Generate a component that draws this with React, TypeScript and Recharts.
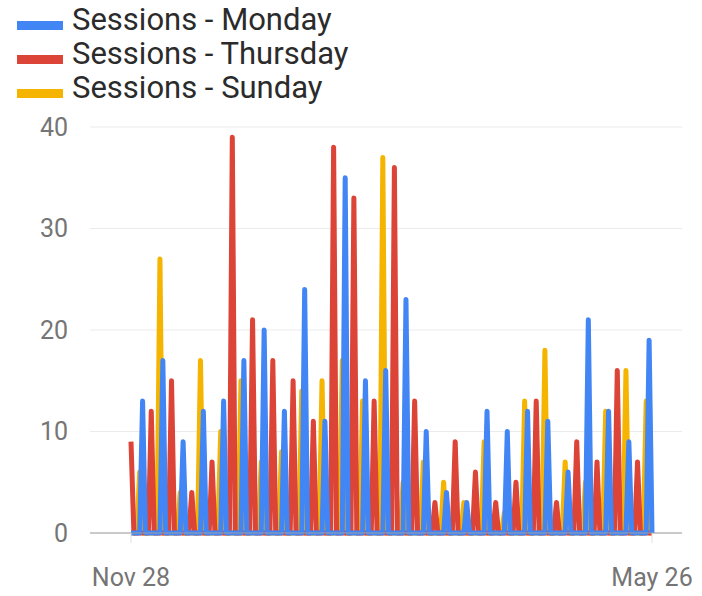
import { CartesianGrid, Legend, Line, LineChart, XAxis, YAxis } from "recharts";

// one value per week (Nov 28 2019 .. May 26 2020, daily axis)
const mondaySessions = [13, 17, 9, 12, 13, 17, 20, 12, 24, 11, 35, 15, 16, 23, 10, 4, 3, 12, 10, 12, 11, 6, 21, 12, 9, 19];
const thursdaySessions = [9, 12, 15, 4, 7, 39, 21, 17, 15, 11, 38, 33, 13, 36, 13, 3, 9, 6, 3, 5, 13, 3, 9, 7, 16, 7];
const sundaySessions = [6, 27, 4, 17, 10, 15, 7, 8, 14, 15, 17, 13, 37, 5, 7, 5, 3, 9, 2, 13, 18, 7, 5, 12, 16, 13];

const dayCount = 181;
const xTicks = [0, 180];
const xTickLabels = ["Nov 28", "May 26"];
const yTicks = [0, 10, 20, 30, 40];

const series = [
  { key: "monday", name: "Sessions - Monday", color: "#4285f4", values: mondaySessions, offset: 4 },
  { key: "thursday", name: "Sessions - Thursday", color: "#db4437", values: thursdaySessions, offset: 0 },
  { key: "sunday", name: "Sessions - Sunday", color: "#f4b400", values: sundaySessions, offset: 3 }
];

// daily rows: each series only has sessions on its own weekday, zero elsewhere
const data = Array.from({ length: dayCount }, (_, day) => {
  const row: Record<string, number> = { day };
  series.forEach((s) => {
    const onDay = (day - s.offset) % 7 === 0 && day >= s.offset;
    row[s.key] = onDay ? s.values[(day - s.offset) / 7] ?? 0 : 0;
  });
  return row;
});

const drawOrder = ["sunday", "thursday", "monday"];

function SessionsLegend() {
  return (
    <div style={{ fontFamily: "Roboto", fontSize: 31, lineHeight: "34px", color: "#2b2b2b" }}>
      {series.map((s) => (
        <div key={s.key} style={{ whiteSpace: "nowrap" }}>
          <span
            style={{
              display: "inline-block",
              width: 46,
              height: 9,
              marginLeft: 17,
              marginRight: 9,
              backgroundColor: s.color,
              verticalAlign: "baseline"
            }}
          />
          {s.name}
        </div>
      ))}
    </div>
  );
}

export default function App() {
  return (
    <div style={{ position: "absolute", left: 0, top: 0, fontFamily: "Roboto" }}>
      <LineChart width={702} height={596} data={data} margin={{ top: 127, right: 20, bottom: 13, left: 0 }}>
        <CartesianGrid horizontal vertical={false} stroke="#ebebeb" />
        <XAxis
          dataKey="day"
          type="number"
          domain={[0, 180]}
          ticks={xTicks}
          tickFormatter={(v: number) => xTickLabels[xTicks.indexOf(v)] ?? ""}
          padding={{ left: 41, right: 30 }}
          height={50}
          axisLine={{ stroke: "#9e9e9e" }}
          tickLine={{ stroke: "#e0e0e0" }}
          tickSize={10}
          tickMargin={25}
          tick={{ fill: "#757575", fontSize: 25 }}
        />
        <YAxis
          domain={[0, 40]}
          ticks={yTicks}
          width={90}
          axisLine={false}
          tickLine={false}
          tickSize={0}
          tickMargin={22}
          tick={{ fill: "#757575", fontSize: 25 }}
        />
        <Legend
          layout="vertical"
          align="center"
          verticalAlign="middle"
          content={SessionsLegend}
          wrapperStyle={{ left: 0, top: 3, width: 400, height: 105 }}
        />
        {drawOrder.map((key) => {
          const s = series.find((item) => item.key === key)!;
          return (
            <Line
              key={s.key}
              name={s.name}
              dataKey={s.key}
              type="linear"
              stroke={s.color}
              strokeWidth={5}
              strokeLinejoin="round"
              dot={false}
              activeDot={false}
              isAnimationActive={false}
            />
          );
        })}
      </LineChart>
    </div>
  );
}
